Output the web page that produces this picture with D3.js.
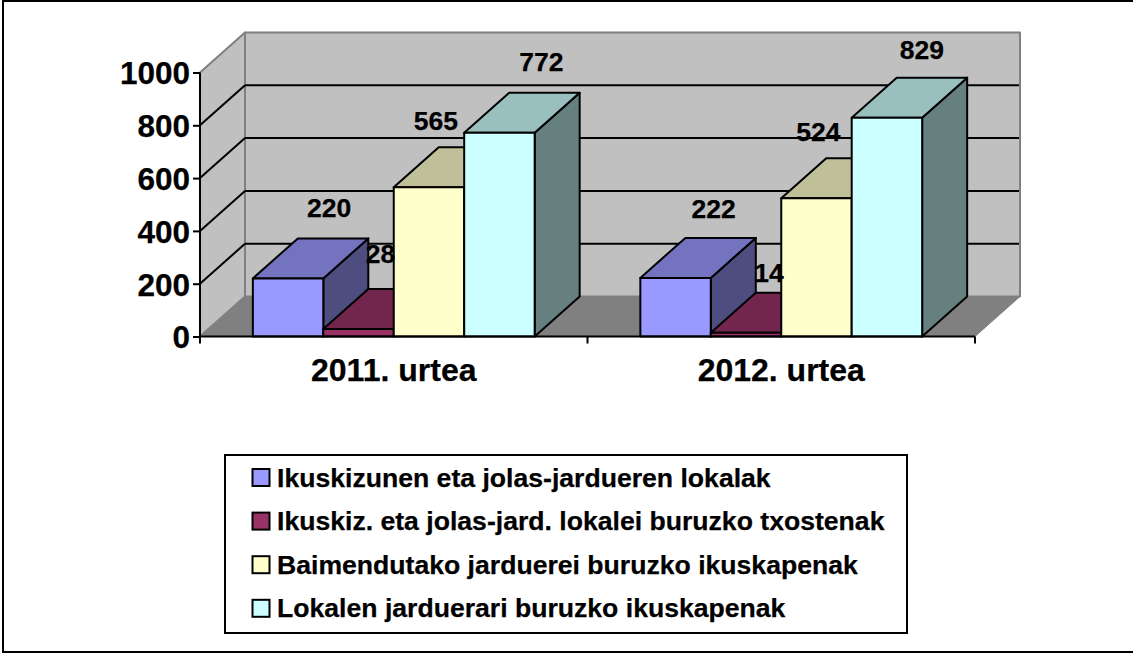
<!DOCTYPE html>
<html><head><meta charset="utf-8">
<script src="https://d3js.org/d3.v7.min.js"></script>
<style>html,body{margin:0;padding:0;background:#fff}svg{display:block}text{font-family:"Liberation Sans",Arial,sans-serif;font-weight:700;fill:#000;stroke:#000;stroke-width:.25px}</style>
</head><body><script>
const categories = ["2011. urtea", "2012. urtea"];
const seriesNames = ["Ikuskizunen eta jolas-jardueren lokalak","Ikuskiz. eta jolas-jard. lokalei buruzko txostenak","Baimendutako jarduerei buruzko ikuskapenak","Lokalen jarduerari buruzko ikuskapenak"];
const values2011 = [220, 28, 565, 772];
const values2012 = [222, 14, 524, 829];
const yTicks = [0, 200, 400, 600, 800, 1000];
const frontColors = ["#9999FF","#993366","#FFFFCC","#CCFFFF"];
const topColors = ["#7373BF","#73264D","#BFBF99","#99BFBF"];
const sideColors = ["#4D4D80","#4D1A33","#808066","#668080"];
const labelNudgeX = [[41,22,7,42],[38,23,2,35]];
const labelNudgeY = [[-70,-75,-66,-71],[-69,-60,-66,-68]];

const W=1133,H=653, dx=45, dy=-40;
const svg=d3.select("body").append("svg").attr("width",W).attr("height",H);
const frame=(a,b)=>svg.append("line").attr("x1",a[0]).attr("y1",a[1]).attr("x2",b[0]).attr("y2",b[1]).attr("stroke","#000").attr("stroke-width",2);
frame([2,1],[1133,1]); frame([3,0],[3,653]); frame([2,652],[1133,652]);

const x=d3.scaleBand().domain(categories).range([200,975]);
const y=d3.scaleLinear().domain([0,1000]).range([336.5,72.5]);
const inner=d3.scaleBand().domain(d3.range(4)).range([0,x.bandwidth()]).paddingInner(0).paddingOuter(0.75);

const poly=(pts,f,s,w)=>svg.append("polygon").attr("points",pts.map(p=>p.join(",")).join(" ")).attr("fill",f).attr("stroke",s).attr("stroke-width",w).attr("stroke-linejoin","round");
const line=(a,b,s,w)=>svg.append("line").attr("x1",a[0]).attr("y1",a[1]).attr("x2",b[0]).attr("y2",b[1]).attr("stroke",s).attr("stroke-width",w);
const [xL,xR]=x.range(), y0=y(0), y1=y(1000);

poly([[xL+dx,y0+dy],[xR+dx,y0+dy],[xR+dx,y1+dy],[xL+dx,y1+dy]],"#C0C0C0","#808080",2);
poly([[xL,y0],[xL+dx,y0+dy],[xL+dx,y1+dy],[xL,y1]],"#C0C0C0","#808080",2);
poly([[xL,y0],[xR,y0],[xR+dx,y0+dy],[xL+dx,y0+dy]],"#808080","#808080",1);

yTicks.filter(t=>t>0&&t<1000).forEach(t=>{
  line([xL,y(t)],[xL+dx,y(t)+dy],"#000",2);
  line([xL+dx,y(t)+dy],[xR+dx-1,y(t)+dy],"#000",2);
});

[values2011,values2012].forEach((vals,g)=>{
  const gx=x(categories[g]);
  vals.forEach((v,i)=>{
    const a=gx+inner(i), b=a+inner.bandwidth(), t=y(v), stk="#000";
    poly([[b,t],[b+dx,t+dy],[b+dx,y0+dy],[b,y0]],sideColors[i],stk,2);
    poly([[a,t],[b,t],[b+dx,t+dy],[a+dx,t+dy]],topColors[i],stk,2);
    poly([[a,t],[b,t],[b,y0],[a,y0]],frontColors[i],stk,2);
  });
});

line([xL,y0],[xL,y1],"#000",2);
line([xL,y0],[xR,y0],"#000",2.2);
const yAxis=d3.axisLeft(y).tickValues(yTicks).tickSize(7).tickPadding(3).tickFormat(d3.format("d"));
const gy=svg.append("g").attr("transform",`translate(${xL},0)`).call(yAxis);
gy.select(".domain").remove();
gy.selectAll("line").attr("stroke","#000").attr("stroke-width",2);
gy.selectAll("text").attr("font-size",31.5).attr("dy","0.36em");
const xTicks=[xL,xL+x.bandwidth(),xR];
xTicks.forEach(t=>line([t,y0],[t,y0+7],"#000",2));
categories.forEach(c=>svg.append("text").attr("x",x(c)+x.bandwidth()/2).attr("y",381).attr("text-anchor","middle").attr("font-size",32).text(c));

[values2011,values2012].forEach((vals,g)=>{
  const gx=x(categories[g]);
  vals.forEach((v,i)=>{
    svg.append("text").attr("x",gx+inner(i)+inner.bandwidth()/2+labelNudgeX[g][i]).attr("y",y(v)+labelNudgeY[g][i]+9)
      .attr("text-anchor","middle").attr("font-size",26.5).text(v);
  });
});

svg.append("rect").attr("x",225).attr("y",455).attr("width",682).attr("height",178).attr("fill","#fff").attr("stroke","#000").attr("stroke-width",2);
seriesNames.forEach((n,i)=>{
  const cy=477.5+i*43.6;
  svg.append("rect").attr("x",252.5).attr("y",cy-8.5).attr("width",17).attr("height",17).attr("fill",frontColors[i]).attr("stroke","#000").attr("stroke-width",2);
  svg.append("text").attr("x",277).attr("y",cy+9).attr("font-size",26.6).text(n);
});
</script></body></html>
